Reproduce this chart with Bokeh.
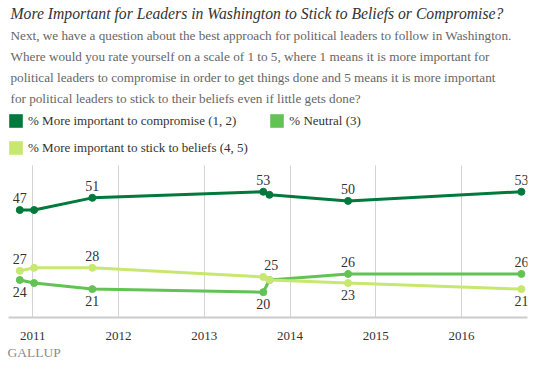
from datetime import datetime, timezone
from bokeh.plotting import figure
from bokeh.models import (Range1d, Title, Legend, LegendItem, ColumnDataSource,
                          FixedTicker, DatetimeTickFormatter, BoxAnnotation)
from bokeh.core.properties import value
from bokeh.embed import file_html
from bokeh.resources import INLINE

# ---------------- data ----------------
dates = ["2010-11-07", "2011-01-07", "2011-09-12", "2013-09-09",
         "2013-10-05", "2014-09-05", "2016-09-12"]
compromise = [47, 47, 51, 53, 52, 50, 53]
neutral = [24, 23, 21, 20, 24, 26, 26]
beliefs = [27, 28, 28, 25, 24, 23, 21]
tick_years = [2011, 2012, 2013, 2014, 2015, 2016]
series_names = ["% More important to compromise (1, 2)", "% Neutral (3)",
                "% More important to stick to beliefs (4, 5)"]

title_text = "More Important for Leaders in Washington to Stick to Beliefs or Compromise?"
subtitle_lines = [
    "Next, we have a question about the best approach for political leaders to follow in Washington.",
    "Where would you rate yourself on a scale of 1 to 5, where 1 means it is more important for",
    "political leaders to compromise in order to get things done and 5 means it is more important",
    "for political leaders to stick to their beliefs even if little gets done?",
]
source_text = "GALLUP"

# which points carry a value label, and on which side (style only)
comp_lbl = {0: "above", 2: "above", 3: "above", 5: "above", 6: "above"}
neut_lbl = {0: "below", 2: "below", 3: "below", 5: "above", 6: "above"}
beli_lbl = {0: "above", 2: "above", 3: "above", 5: "below", 6: "below"}
beli_xoff = {3: 8}

# ---------------- style ----------------
C_DARK = "#00793c"
C_MID = "#62c254"
C_LIGHT = "#c8e76f"
FONT = "Liberation Serif"
Y_MIN, Y_MAX, PLOT_TOP = 11.67, 80.7, 61.7   # PLOT_TOP: where gridlines stop

def to_dt(s):
    return datetime.strptime(s, "%Y-%m-%d")

xs = [to_dt(d) for d in dates]

p = figure(width=534, height=379, output_backend="svg", toolbar_location=None,
           x_axis_type="datetime", title=None,
           x_range=Range1d(datetime(2010, 9, 20), datetime(2016, 10, 8)),
           y_range=Range1d(Y_MIN, Y_MAX),
           min_border_left=8, min_border_right=7, min_border_top=0,
           min_border_bottom=62)
p.outline_line_color = None
p.background_fill_color = "white"

# axes
p.yaxis.visible = False
p.ygrid.visible = False
ticks_ms = [datetime(y, 1, 1, tzinfo=timezone.utc).timestamp() * 1000 for y in tick_years]
p.xaxis.ticker = FixedTicker(ticks=ticks_ms)
p.xaxis.formatter = DatetimeTickFormatter(years="%Y", months="%Y", days="%Y",
                                          hours="%Y", minutes="%Y", seconds="%Y",
                                          milliseconds="%Y", microseconds="%Y")
p.xaxis.axis_line_color = "#cccccc"
p.xaxis.axis_line_width = 2
p.xaxis.major_tick_line_color = None
p.xaxis.minor_tick_line_color = None
p.xaxis.major_tick_out = 0
p.xaxis.major_tick_in = 0
p.xaxis.major_label_standoff = 14
p.xaxis.major_label_text_font = FONT
p.xaxis.major_label_text_font_size = "13px"
p.xaxis.major_label_text_color = "#333333"
p.xgrid.ticker = FixedTicker(ticks=ticks_ms)
p.xgrid.grid_line_color = "#d4d4d4"
p.xgrid.grid_line_width = 1

# series
series = [(compromise, C_DARK, comp_lbl, {}),
          (neutral, C_MID, neut_lbl, {}),
          (beliefs, C_LIGHT, beli_lbl, beli_xoff)]

legend_items = []
lx, ly, lt, lyo, lxo = [], [], [], [], []
for (vals, col, lbl, xoff), name in zip(series, series_names):
    src = ColumnDataSource(dict(x=xs, y=vals))
    p.line("x", "y", source=src, line_color=col, line_width=3)
    p.scatter("x", "y", source=src, size=7, fill_color=col, line_color=col)
    # zero-size rects: invisible on the chart, give square legend swatches
    sw = p.rect("x", "y", width=0, height=0, source=src, fill_color=col,
                line_color=None)
    legend_items.append(LegendItem(label=name, renderers=[sw]))
    for i, side in lbl.items():
        lx.append(xs[i]); ly.append(vals[i]); lt.append(str(vals[i]))
        lyo.append(-12 if side == "above" else 12)
        lxo.append(xoff.get(i, 0))

lsrc = ColumnDataSource(dict(x=lx, y=ly, text=lt, yo=lyo, xo=lxo))
p.text("x", "y", text="text", source=lsrc, x_offset="xo", y_offset="yo",
       text_align="center", text_baseline="middle", text_color="#333333",
       text_font=value(FONT), text_font_size="14px")

# blank the gridlines above the plotting area (legend zone)
p.add_layout(BoxAnnotation(bottom=PLOT_TOP, fill_color="white", fill_alpha=1,
                           line_color=None, line_alpha=0))

# legends: two rows in the top zone (location = bottom-left, px from frame bottom-left)
leg_kw = dict(orientation="horizontal",
              glyph_width=17, glyph_height=17,
              label_text_font=FONT, label_text_font_size="13px",
              label_text_color="#333333", label_standoff=4, spacing=32,
              padding=0, margin=0, border_line_color=None,
              background_fill_alpha=0)
p.add_layout(Legend(items=legend_items[:2], location=(-1, 188), **leg_kw), "center")
p.add_layout(Legend(items=[legend_items[2]], location=(-1, 161), **leg_kw), "center")

# header
for line in reversed(subtitle_lines):
    p.add_layout(Title(text=line, text_font=FONT, text_font_size="13.2px",
                       text_color="#666666", text_font_style="normal",
                       standoff=4, offset=2), "above")
p.add_layout(Title(text=title_text, text_font=FONT, text_font_size="15.7px",
                   text_color="#333333", text_font_style="italic",
                   standoff=4, offset=2), "above")

p.add_layout(Title(text=source_text, text_font=FONT, text_font_size="13.5px",
                   text_color="#8c8c8c", text_font_style="normal",
                   standoff=0, offset=-1), "below")

open("out.html", "w").write(file_html(p, INLINE))
